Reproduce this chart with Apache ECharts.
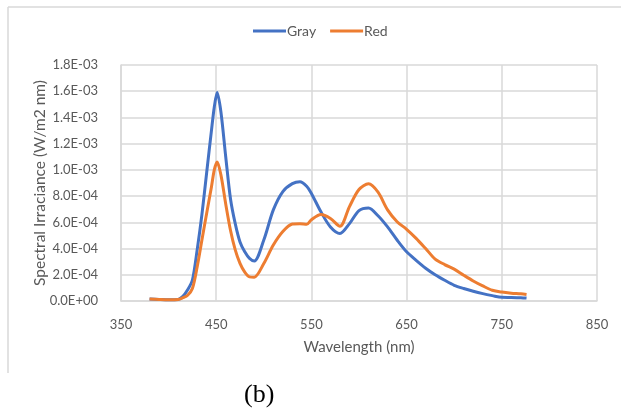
<!DOCTYPE html>
<html>
<head>
<meta charset="utf-8">
<script src="https://cdn.jsdelivr.net/npm/echarts@6/dist/echarts.min.js"></script>
<style>
  html, body { margin: 0; padding: 0; background: #fff; }
  #chart { width: 621px; height: 413px; }
</style>
</head>
<body>
<div id="chart"></div>
<script>
const wavelengths = [380, 390, 400, 410, 415, 420, 425, 430, 435, 440, 445, 448, 451, 455, 460, 465, 470, 475, 480, 485, 490,
  500, 510, 520, 530, 538, 545, 550, 560, 570, 580, 590, 600, 610, 620, 630, 640, 650, 660, 670, 680, 690,
  700, 710, 720, 730, 740, 750, 760, 770, 776]

const grayValues = [1.5e-5, 1.2e-5, 1.0e-5, 1.2e-5, 3.5e-5, 8.5e-5, 1.6e-4, 3.9e-4, 6.6e-4, 9.8e-4, 1.3e-3, 1.48e-3, 1.59e-3, 1.44e-3, 1.1e-3, 7.8e-4, 5.9e-4, 4.5e-4, 3.75e-4, 3.25e-4, 3.05e-4,
  4.65e-4, 6.95e-4, 8.35e-4, 8.95e-4, 9.1e-4, 8.75e-4, 8.2e-4, 6.8e-4, 5.65e-4, 5.15e-4, 5.9e-4, 6.9e-4, 7.1e-4, 6.5e-4, 5.65e-4, 4.65e-4, 3.75e-4, 3.1e-4, 2.5e-4, 2.0e-4, 1.58e-4,
  1.2e-4, 9.5e-5, 7.4e-5, 5.6e-5, 4.1e-5, 2.8e-5, 2.7e-5, 2.5e-5, 2.2e-5]

const redValues = [1.5e-5, 1.2e-5, 1.0e-5, 1.2e-5, 2.5e-5, 4.4e-5, 9.5e-5, 2.6e-4, 4.65e-4, 6.7e-4, 8.7e-4, 1.0e-3, 1.06e-3, 9.6e-4, 7.4e-4, 5.4e-4, 3.9e-4, 2.87e-4, 2.2e-4, 1.84e-4, 1.82e-4,
  2.86e-4, 4.27e-4, 5.3e-4, 5.87e-4, 5.9e-4, 5.85e-4, 6.2e-4, 6.6e-4, 6.3e-4, 5.7e-4, 7.2e-4, 8.5e-4, 8.94e-4, 8.3e-4, 6.95e-4, 6.05e-4, 5.47e-4, 4.78e-4, 4.0e-4, 3.2e-4, 2.78e-4,
  2.43e-4, 1.97e-4, 1.53e-4, 1.15e-4, 8.2e-5, 6.8e-5, 6.0e-5, 5.5e-5, 5.0e-5]

const seriesNames = ['Gray', 'Red']
const seriesColors = ['#4472C4', '#ED7D31']

const textColor = '#595959'
const gridColor = '#d9d9d9'
const font = 'Lato'

// excel style scientific label: 1.8E-03
const sciLabel = (v) => {
  if (Math.abs(v) < 1e-12) return '0.0E+00'
  let e = Math.floor(Math.log10(v) + 1e-9)
  let m = v / Math.pow(10, e)
  const ae = Math.abs(e)
  return m.toFixed(1) + 'E' + (e < 0 ? '-' : '+') + (ae < 10 ? '0' + ae : ae)
}

const chart = echarts.init(document.getElementById('chart'))

const option = {
  backgroundColor: '#fff',
  animation: false,
  textStyle: { fontFamily: font },
  title: {
    text: '(b)',
    left: 239,
    top: 377,
    textStyle: { fontFamily: 'Liberation Serif', fontSize: 26, fontWeight: 'normal', color: '#000' }
  },
  legend: {
    data: seriesNames,
    left: 248,
    top: 19,
    icon: 'rect',
    itemWidth: 33,
    itemHeight: 3,
    itemGap: 14,
    textStyle: { color: textColor, fontSize: 14, fontFamily: font, padding: [0, 0, 0, -4] }
  },
  grid: {
    left: 121,
    right: 24,
    top: 65,
    bottom: 112
  },
  xAxis: {
    type: 'value',
    min: 350,
    max: 850,
    interval: 100,
    name: 'Wavelength (nm)',
    nameLocation: 'middle',
    nameGap: 39,
    nameMoveOverlap: false,
    nameTextStyle: { color: textColor, fontSize: 15, fontFamily: font },
    axisLine: { show: true, lineStyle: { color: gridColor, width: 1.5 } },
    axisTick: { show: false },
    axisLabel: { color: textColor, fontSize: 13, margin: 17 },
    splitLine: { show: true, lineStyle: { color: gridColor, width: 1.5 } }
  },
  yAxis: {
    type: 'value',
    min: 0,
    max: 0.0018,
    interval: 0.0002,
    name: 'Spectral Irraciance (W/m2 nm)',
    nameLocation: 'middle',
    nameGap: 73,
    nameMoveOverlap: false,
    nameTextStyle: { color: textColor, fontSize: 15.5, fontFamily: font },
    axisLine: { show: true, lineStyle: { color: gridColor, width: 1.5 } },
    axisTick: { show: false },
    axisLabel: { color: textColor, fontSize: 13, margin: 23, formatter: sciLabel },
    splitLine: { show: true, lineStyle: { color: gridColor, width: 1.5 } }
  },
  graphic: [
    { type: 'line', shape: { x1: 8, y1: 7, x2: 621, y2: 7 }, style: { stroke: gridColor, lineWidth: 1.5 }, silent: true },
    { type: 'line', shape: { x1: 8, y1: 7, x2: 8, y2: 373 }, style: { stroke: gridColor, lineWidth: 1.5 }, silent: true }
  ],
  series: [
    {
      name: seriesNames[0],
      type: 'line',
      smooth: 0.3,
      showSymbol: false,
      data: wavelengths.map((w, i) => [w, grayValues[i]]),
      lineStyle: { color: seriesColors[0], width: 3 },
      itemStyle: { color: seriesColors[0] }
    },
    {
      name: seriesNames[1],
      type: 'line',
      smooth: 0.3,
      showSymbol: false,
      data: wavelengths.map((w, i) => [w, redValues[i]]),
      lineStyle: { color: seriesColors[1], width: 3 },
      itemStyle: { color: seriesColors[1] }
    }
  ]
}

chart.setOption(option)
</script>
</body>
</html>
